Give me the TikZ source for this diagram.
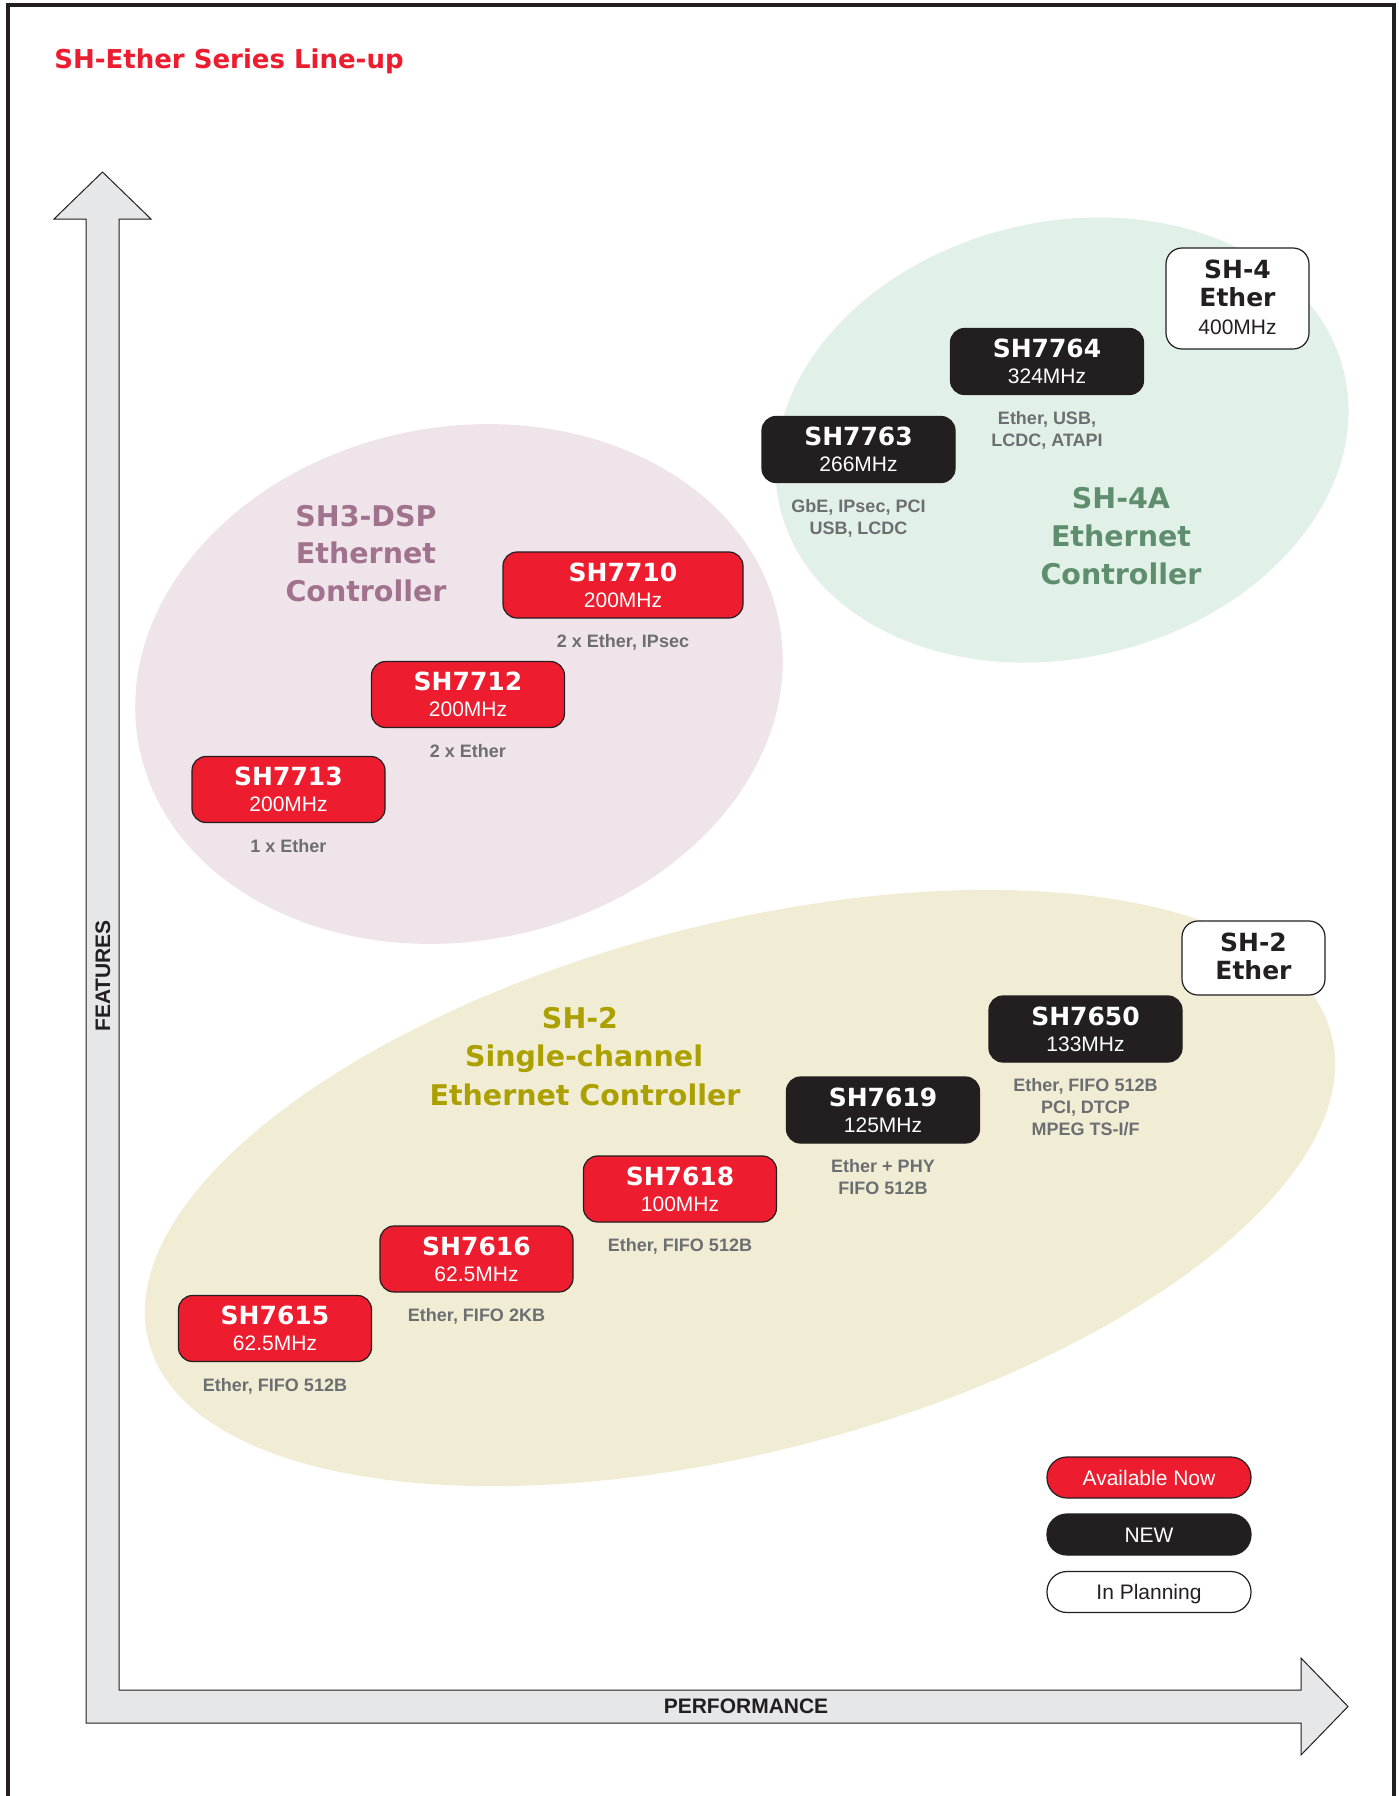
\documentclass[tikz,border=0pt]{standalone}
\usepackage{fontspec}
\setmainfont{Liberation Sans}
\newfontfamily\djv{DejaVu Sans}
\usetikzlibrary{calc}
\definecolor{rred}{RGB}{237,28,46}
\definecolor{rblk}{RGB}{35,31,32}
\definecolor{capgray}{RGB}{109,110,113}
\definecolor{axfill}{RGB}{230,231,232}
\definecolor{pnkfill}{RGB}{239,228,234}
\definecolor{grnfill}{RGB}{226,241,231}
\definecolor{ylwfill}{RGB}{241,237,213}
\definecolor{pnktxt}{RGB}{161,114,142}
\definecolor{grntxt}{RGB}{94,142,110}
\definecolor{ylwtxt}{RGB}{172,160,0}
\begin{document}
\begin{tikzpicture}[x=0.5pt,y=-0.5pt,
  chip/.style={rounded corners=7pt, minimum height=33pt, minimum width=96.5pt, draw=rblk, line width=0.6pt, inner sep=0pt},
  redchip/.style={chip, fill=rred},
  blkchip/.style={chip, fill=rblk},
  whtchip/.style={chip, fill=white, rounded corners=8pt},
  nm/.style={font=\djv\bfseries\fontsize{12.5}{15}\selectfont, text=white, anchor=base, inner sep=0pt},
  nmk/.style={nm, text=rblk},
  mhz/.style={font=\fontsize{10.5}{12}\selectfont, text=white, anchor=base, inner sep=0pt},
  mhzk/.style={mhz, text=rblk},
  capt/.style={font=\bfseries\fontsize{9}{11}\selectfont, text=capgray, anchor=base, inner sep=0pt},
  grp/.style={font=\djv\bfseries\fontsize{14.25}{17}\selectfont, anchor=base, inner sep=0pt},
  pill/.style={rounded corners=10pt, minimum height=20.5pt, minimum width=102pt, draw=rblk, line width=0.6pt, inner sep=0pt, text height=7.5pt, text depth=0pt, font=\fontsize{10.5}{12}\selectfont},
  axlbl/.style={font=\bfseries\fontsize{10.5}{12}\selectfont, text=rblk, inner sep=0pt}
]
\useasboundingbox (0,0) rectangle (1399,1796);
\fill[white] (0,0) rectangle (1399,1796);

% group ellipses
\fill[grnfill, rotate around={13.5:(1062,440)}] (1062,440) ellipse [x radius=290, y radius=218];
\fill[pnkfill, rotate around={11:(459,684)}] (459,684) ellipse [x radius=326, y radius=257];
\fill[ylwfill, rotate around={14.55:(740,1188)}] (740,1188) ellipse [x radius=611, y radius=264];

% frame
\draw[line width=1.7pt, rblk] (8,1800) -- (8,5) -- (1394,5) -- (1394,1800);

% title
\node[anchor=base west, inner sep=0pt, text=rred, font=\djv\bfseries\fontsize{13}{15}\selectfont] (title) at (54,68) {SH-Ether Series Line-up};

% axes
\draw[fill=axfill, draw=rblk, line width=0.5pt, line join=miter]
  (102.5,172) -- (151,219) -- (119,219) -- (119,1690) -- (1301,1690) -- (1301,1658)
  -- (1348,1706.5) -- (1301,1755) -- (1301,1723) -- (86,1723) -- (86,219) -- (54,219) -- cycle;
\node[axlbl, rotate=90] (feat) at (103,976) {FEATURES};
\node[axlbl] (perf) at (746,1706.5) {PERFORMANCE};

% group labels
\node[grp, text=pnktxt] (g3a) at (366,526) {SH3-DSP};
\node[grp, text=pnktxt] (g3b) at (366,563) {Ethernet};
\node[grp, text=pnktxt] (g3c) at (366,601) {Controller};
\node[grp, text=grntxt] (g4a) at (1121,508) {SH-4A};
\node[grp, text=grntxt] (g4b) at (1121,546) {Ethernet};
\node[grp, text=grntxt] (g4c) at (1121,584) {Controller};
\node[grp, text=ylwtxt] (g2a) at (580,1028) {SH-2};
\node[grp, text=ylwtxt] (g2b) at (584,1066) {Single-channel};
\node[grp, text=ylwtxt] (g2c) at (585,1105) {Ethernet Controller};

% SH3-DSP chips
\node[redchip] (c7713) at (288.5,789.5) {};
\node[nm] (c7713n) at ($(c7713.north)+(0,30)$) {SH7713};
\node[mhz] (c7713m) at ($(c7713.north)+(0,56)$) {200MHz};
\node[capt] (c7713c) at ($(c7713.south)+(0,29)$) {1 x Ether};

\node[redchip] (c7712) at (468,694.5) {};
\node[nm] (c7712n) at ($(c7712.north)+(0,30)$) {SH7712};
\node[mhz] (c7712m) at ($(c7712.north)+(0,56)$) {200MHz};
\node[capt] (c7712c) at ($(c7712.south)+(0,29)$) {2 x Ether};

\node[redchip, minimum width=120pt] (c7710) at (623,585) {};
\node[nm] (c7710n) at ($(c7710.north)+(0,30)$) {SH7710};
\node[mhz] (c7710m) at ($(c7710.north)+(0,56)$) {200MHz};
\node[capt] (c7710c) at ($(c7710.south)+(0,29)$) {2 x Ether, IPsec};

% SH-4A chips
\node[blkchip] (c7763) at (858.5,449.5) {};
\node[nm] (c7763n) at ($(c7763.north)+(0,30)$) {SH7763};
\node[mhz] (c7763m) at ($(c7763.north)+(0,56)$) {266MHz};
\node[capt] (c7763c) at ($(c7763.south)+(0,29)$) {GbE, IPsec, PCI};
\node[capt] (c7763d) at ($(c7763c.base)+(0,22)$) {USB, LCDC};

\node[blkchip] (c7764) at (1047,361.5) {};
\node[nm] (c7764n) at ($(c7764.north)+(0,30)$) {SH7764};
\node[mhz] (c7764m) at ($(c7764.north)+(0,56)$) {324MHz};
\node[capt] (c7764c) at ($(c7764.south)+(0,29)$) {Ether, USB,};
\node[capt] (c7764d) at ($(c7764c.base)+(0,22)$) {LCDC, ATAPI};

\node[whtchip, minimum width=71.5pt, minimum height=50.5pt] (sh4) at (1237.5,298.5) {};
\node[nmk] (sh4a) at ($(sh4.north)+(0,31)$) {SH-4};
\node[nmk] (sh4b) at ($(sh4.north)+(0,59)$) {Ether};
\node[mhzk] (sh4c) at ($(sh4.north)+(0,87)$) {400MHz};

% SH-2 chips
\node[redchip] (c7615) at (275,1328.5) {};
\node[nm] (c7615n) at ($(c7615.north)+(0,30)$) {SH7615};
\node[mhz] (c7615m) at ($(c7615.north)+(0,56)$) {62.5MHz};
\node[capt] (c7615c) at ($(c7615.south)+(0,29)$) {Ether, FIFO 512B};

\node[redchip] (c7616) at (476.5,1259) {};
\node[nm] (c7616n) at ($(c7616.north)+(0,30)$) {SH7616};
\node[mhz] (c7616m) at ($(c7616.north)+(0,56)$) {62.5MHz};
\node[capt] (c7616c) at ($(c7616.south)+(0,29)$) {Ether, FIFO 2KB};

\node[redchip] (c7618) at (680,1189) {};
\node[nm] (c7618n) at ($(c7618.north)+(0,30)$) {SH7618};
\node[mhz] (c7618m) at ($(c7618.north)+(0,56)$) {100MHz};
\node[capt] (c7618c) at ($(c7618.south)+(0,29)$) {Ether, FIFO 512B};

\node[blkchip] (c7619) at (883,1110) {};
\node[nm] (c7619n) at ($(c7619.north)+(0,30)$) {SH7619};
\node[mhz] (c7619m) at ($(c7619.north)+(0,56)$) {125MHz};
\node[capt] (c7619c) at ($(c7619.south)+(0,29)$) {Ether + PHY};
\node[capt] (c7619d) at ($(c7619c.base)+(0,22)$) {FIFO 512B};

\node[blkchip] (c7650) at (1085.5,1029) {};
\node[nm] (c7650n) at ($(c7650.north)+(0,30)$) {SH7650};
\node[mhz] (c7650m) at ($(c7650.north)+(0,56)$) {133MHz};
\node[capt] (c7650c) at ($(c7650.south)+(0,29)$) {Ether, FIFO 512B};
\node[capt] (c7650d) at ($(c7650c.base)+(0,22)$) {PCI, DTCP};
\node[capt] (c7650e) at ($(c7650d.base)+(0,22)$) {MPEG TS-I/F};

\node[whtchip, minimum width=71.5pt, minimum height=37pt] (sh2) at (1253.5,958) {};
\node[nmk] (sh2a) at ($(sh2.north)+(0,31)$) {SH-2};
\node[nmk] (sh2b) at ($(sh2.north)+(0,59)$) {Ether};

% legend
\node[pill, fill=rred, text=white] (lgav) at (1149,1477.5) {Available Now};
\node[pill, fill=rblk, text=white] (lgnew) at (1149,1534.5) {NEW};
\node[pill, fill=white, text=rblk] (lgpl) at (1149,1592) {In Planning};
\end{tikzpicture}
\end{document}
